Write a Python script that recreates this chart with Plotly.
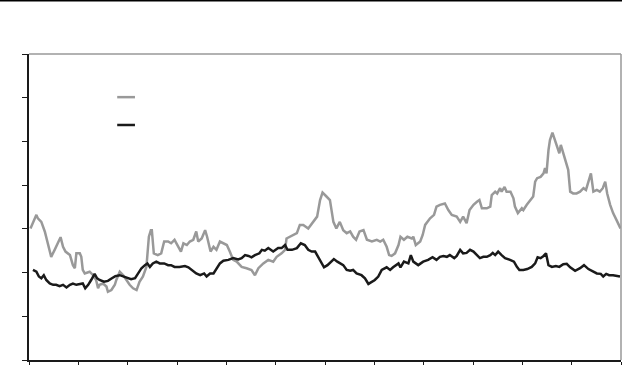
import plotly.graph_objects as go

# Series 1 (grey)
gray_x = [0.03,0.15,0.18,0.25,0.32,0.39,0.45,0.52,0.59,0.64,0.69,0.74,0.83,0.89,0.93,0.96,1.03,1.06,1.09,1.13,
          1.23,1.30,1.36,1.40,1.43,1.50,1.57,1.60,1.67,1.74,1.77,1.84,1.91,1.97,2.04,2.11,2.18,2.24,2.31,2.38,
          2.43,2.47,2.49,2.53,2.61,2.68,2.74,2.82,2.88,2.95,3.02,3.08,3.13,3.20,3.26,3.33,3.39,3.43,3.50,3.57,
          3.61,3.68,3.74,3.80,3.87,3.94,4.01,4.07,4.14,4.21,4.31,4.41,4.51,4.58,4.65,4.75,4.85,4.95,5.02,5.12,
          5.19,5.22,5.29,5.36,5.43,5.49,5.56,5.66,5.76,5.84,5.90,5.95,6.03,6.10,6.17,6.23,6.30,6.37,6.44,6.51,
          6.57,6.63,6.70,6.78,6.85,6.95,7.05,7.12,7.18,7.25,7.30,7.35,7.42,7.49,7.53,7.60,7.67,7.76,7.79,7.84,
          7.93,7.98,8.03,8.13,8.21,8.26,8.33,8.43,8.50,8.57,8.67,8.74,8.80,8.87,8.93,9.01,9.08,9.13,9.18,9.28,
          9.35,9.38,9.45,9.49,9.55,9.58,9.64,9.68,9.76,9.82,9.85,9.91,9.99,10.02,10.09,10.16,10.22,10.26,10.30,10.37,
          10.43,10.46,10.49,10.53,10.56,10.61,10.66,10.71,10.75,10.78,10.83,10.89,10.93,10.97,11.03,11.10,11.17,11.24,11.29,11.34,
          11.39,11.44,11.51,11.57,11.63,11.68,11.72,11.78,11.84,11.91,11.99]
gray_y = [3.01,3.32,3.24,3.16,2.94,2.59,2.36,2.52,2.71,2.81,2.59,2.48,2.40,2.17,2.10,2.44,2.44,2.36,2.06,1.98,
          2.02,1.94,1.83,1.64,1.72,1.75,1.68,1.56,1.60,1.72,1.83,2.02,1.94,1.83,1.72,1.64,1.60,1.79,1.91,2.13,
          2.82,2.97,2.97,2.44,2.40,2.44,2.71,2.71,2.67,2.75,2.59,2.48,2.67,2.63,2.71,2.75,2.94,2.71,2.78,2.97,
          2.82,2.48,2.59,2.52,2.71,2.67,2.63,2.48,2.29,2.25,2.13,2.10,2.06,1.94,2.10,2.21,2.29,2.25,2.36,2.44,
          2.52,2.78,2.82,2.86,2.90,3.09,3.09,3.01,3.16,3.28,3.66,3.83,3.74,3.66,3.16,3.01,3.16,2.97,2.90,2.94,
          2.82,2.75,2.94,2.97,2.75,2.71,2.75,2.71,2.75,2.59,2.40,2.38,2.44,2.63,2.82,2.75,2.82,2.78,2.82,2.63,
          2.71,2.86,3.09,3.24,3.32,3.51,3.55,3.58,3.43,3.32,3.28,3.16,3.28,3.13,3.43,3.55,3.62,3.66,3.47,3.47,
          3.51,3.77,3.85,3.81,3.93,3.85,3.96,3.85,3.85,3.70,3.51,3.36,3.47,3.43,3.55,3.66,3.74,4.08,4.16,4.19,
          4.27,4.39,4.27,4.80,5.03,5.20,5.03,4.88,4.73,4.92,4.73,4.54,4.35,3.85,3.81,3.81,3.85,3.93,3.89,4.08,
          4.27,3.85,3.89,3.85,3.93,4.08,3.81,3.55,3.36,3.20,3.01]

# Series 2 (black)
black_x = [0.08,0.15,0.20,0.25,0.30,0.35,0.42,0.49,0.55,0.62,0.69,0.76,0.83,0.89,0.96,1.03,1.09,1.14,1.20,1.26,
           1.33,1.38,1.43,1.52,1.60,1.68,1.75,1.84,1.91,1.99,2.07,2.15,2.21,2.28,2.35,2.40,2.45,2.51,2.58,2.65,
           2.74,2.82,2.88,2.95,3.05,3.16,3.23,3.30,3.39,3.47,3.55,3.60,3.67,3.74,3.80,3.87,3.94,4.04,4.14,4.24,
           4.31,4.38,4.45,4.51,4.58,4.67,4.72,4.78,4.85,4.95,5.05,5.12,5.19,5.24,5.33,5.43,5.51,5.59,5.66,5.73,
           5.80,5.88,5.98,6.05,6.12,6.18,6.25,6.30,6.37,6.44,6.51,6.57,6.64,6.74,6.81,6.88,6.95,7.01,7.08,7.15,
           7.25,7.32,7.38,7.49,7.53,7.60,7.69,7.74,7.79,7.89,7.99,8.09,8.18,8.26,8.33,8.40,8.47,8.53,8.62,8.67,
           8.74,8.80,8.87,8.94,9.01,9.08,9.14,9.21,9.28,9.35,9.40,9.45,9.51,9.58,9.65,9.75,9.83,9.89,9.94,10.02,
           10.10,10.19,10.26,10.31,10.37,10.43,10.48,10.53,10.60,10.68,10.75,10.83,10.90,10.97,11.07,11.17,11.25,11.34,11.43,11.51,
           11.59,11.64,11.70,11.76,11.84,11.91,11.98]
black_y = [2.06,2.02,1.91,1.87,1.94,1.83,1.75,1.72,1.72,1.69,1.72,1.66,1.72,1.75,1.72,1.74,1.75,1.64,1.72,1.83,
           1.97,1.87,1.83,1.79,1.81,1.87,1.92,1.94,1.91,1.87,1.85,1.87,1.98,2.10,2.17,2.21,2.13,2.21,2.25,2.21,
           2.21,2.17,2.17,2.13,2.13,2.15,2.12,2.06,1.98,1.94,1.98,1.91,1.98,1.98,2.10,2.21,2.27,2.29,2.33,2.30,
           2.33,2.40,2.38,2.35,2.40,2.44,2.52,2.50,2.56,2.48,2.56,2.56,2.63,2.52,2.52,2.56,2.67,2.63,2.52,2.48,
           2.48,2.33,2.12,2.17,2.25,2.31,2.25,2.21,2.17,2.06,2.04,2.06,1.98,1.94,1.87,1.74,1.79,1.83,1.91,2.06,
           2.12,2.06,2.12,2.21,2.12,2.25,2.21,2.40,2.25,2.17,2.25,2.29,2.35,2.29,2.36,2.38,2.36,2.40,2.33,2.38,
           2.52,2.44,2.45,2.52,2.48,2.40,2.33,2.36,2.36,2.40,2.45,2.40,2.48,2.40,2.33,2.29,2.25,2.13,2.06,2.06,
           2.08,2.13,2.21,2.35,2.33,2.38,2.44,2.17,2.13,2.15,2.13,2.19,2.20,2.12,2.04,2.10,2.17,2.08,2.02,1.98,
           1.97,1.91,1.97,1.94,1.94,1.93,1.91]

x_ticks = list(range(0, 13))
y_ticks = list(range(0, 8))

GRAY = "#999999"
BLACK = "#1a1a1a"

fig = go.Figure()
fig.add_trace(go.Scatter(x=gray_x, y=gray_y, mode="lines",
                         line=dict(color=GRAY, width=2.5), showlegend=False))
fig.add_trace(go.Scatter(x=black_x, y=black_y, mode="lines",
                         line=dict(color=BLACK, width=2.5), showlegend=False))

fig.update_xaxes(range=[0, 12], tickvals=x_ticks, showticklabels=False,
                 showgrid=False, zeroline=False, showline=True, linecolor=BLACK,
                 linewidth=1.5, ticks="outside", ticklen=3, tickwidth=1.2, tickcolor=BLACK)
fig.update_yaxes(range=[0, 7], tickvals=y_ticks, showticklabels=False,
                 showgrid=False, zeroline=False, showline=True, linecolor=BLACK,
                 linewidth=1.5, ticks="outside", ticklen=5, tickwidth=1.2, tickcolor=BLACK)

shapes = [
    # top and right gray borders of plot area
    dict(type="line", xref="paper", yref="paper", x0=0, x1=1, y0=1, y1=1,
         line=dict(color=GRAY, width=1.5)),
    dict(type="line", xref="paper", yref="paper", x0=1, x1=1, y0=0, y1=1,
         line=dict(color=GRAY, width=1.5)),
    # top black rule across the figure
    dict(type="line", xref="paper", yref="paper", x0=-0.06, x1=1.01, y0=1.1748, y1=1.1748,
         line=dict(color="black", width=2)),
    # legend samples
    dict(type="line", xref="paper", yref="paper", x0=0.149, x1=0.179, y0=0.859, y1=0.859,
         line=dict(color=GRAY, width=2.5)),
    dict(type="line", xref="paper", yref="paper", x0=0.149, x1=0.179, y0=0.768, y1=0.768,
         line=dict(color=BLACK, width=2.5)),
]

fig.update_layout(width=622, height=365, margin=dict(l=29, r=1, t=54, b=5),
                  paper_bgcolor="white", plot_bgcolor="white", shapes=shapes,
                  showlegend=False)

fig.write_html("out.html")
